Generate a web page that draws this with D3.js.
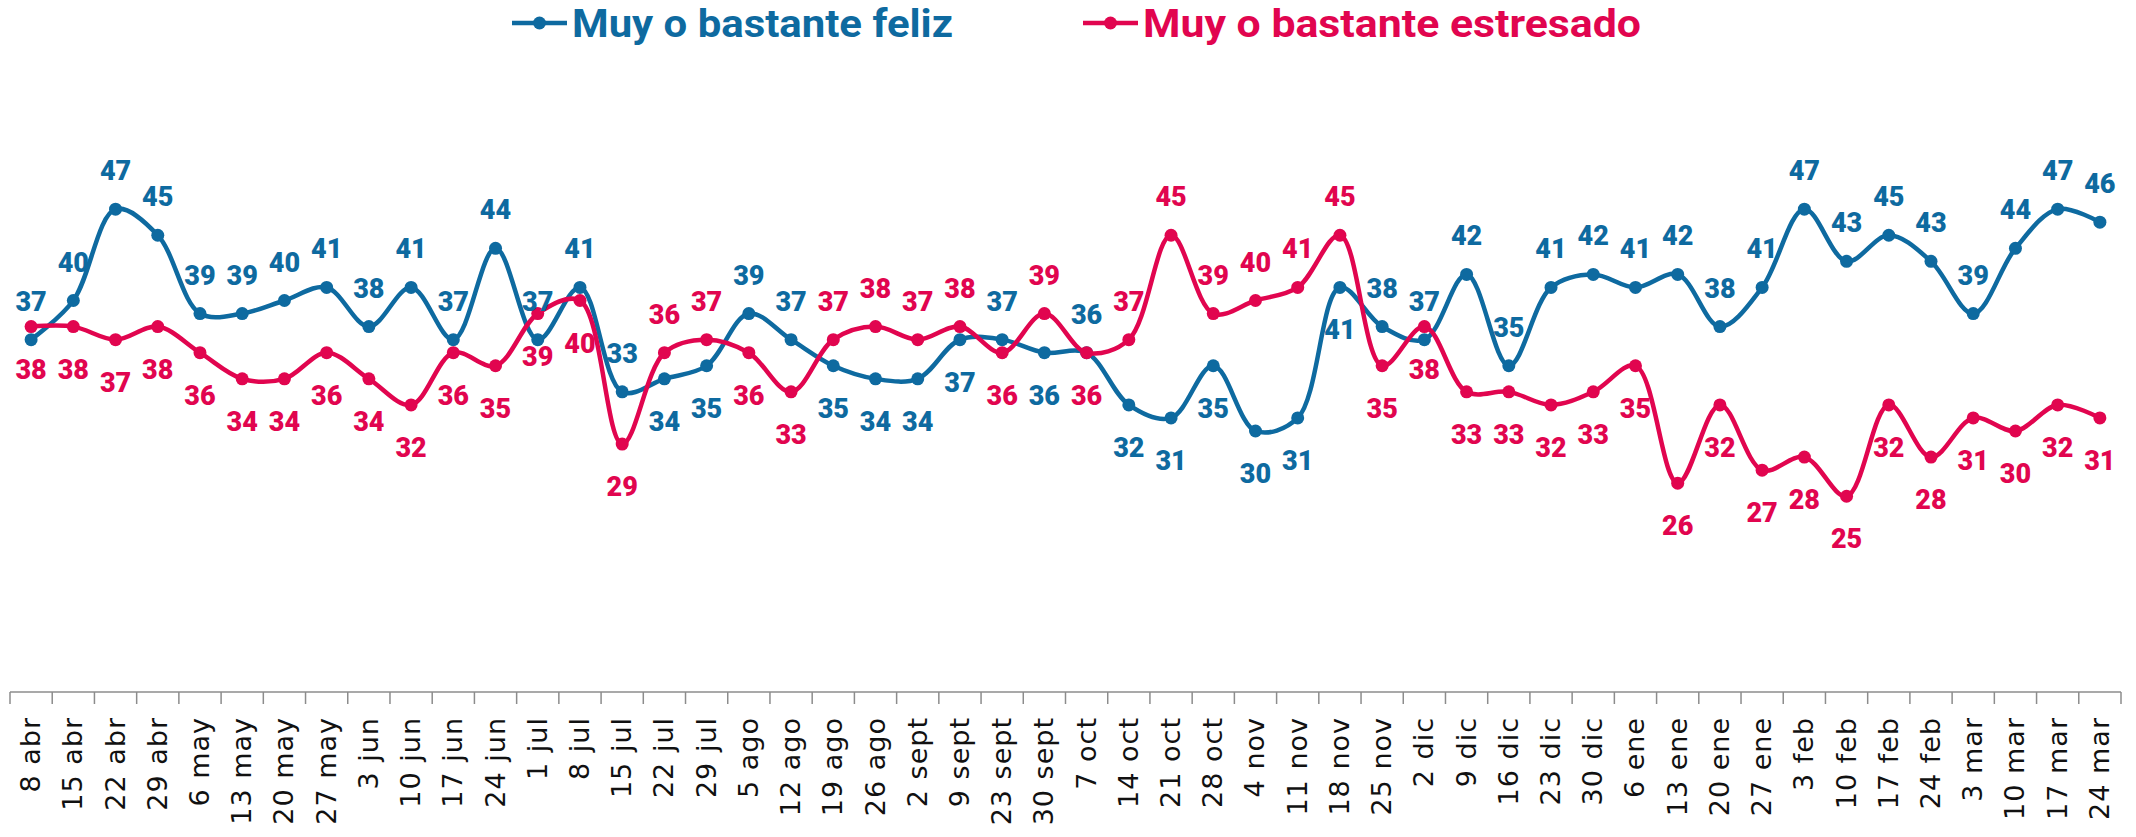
<!DOCTYPE html>
<html>
<head>
<meta charset="utf-8">
<script src="https://cdn.jsdelivr.net/npm/d3@7"></script>
<style>
  body { margin: 0; background: #fff; }
  svg { display: block; }
</style>
</head>
<body>
<div id="chart"></div>
<script>
const width = 2136
const height = 837

const categories = ["8 abr", "15 abr", "22 abr", "29 abr", "6 may", "13 may", "20 may", "27 may",
    "3 jun", "10 jun", "17 jun", "24 jun", "1 jul", "8 jul", "15 jul", "22 jul", "29 jul",
    "5 ago", "12 ago", "19 ago", "26 ago", "2 sept", "9 sept", "23 sept", "30 sept",
    "7 oct", "14 oct", "21 oct", "28 oct", "4 nov", "11 nov", "18 nov", "25 nov",
    "2 dic", "9 dic", "16 dic", "23 dic", "30 dic", "6 ene", "13 ene", "20 ene", "27 ene",
    "3 feb", "10 feb", "17 feb", "24 feb", "3 mar", "10 mar", "17 mar", "24 mar"]

const feliz = [37, 40, 47, 45, 39, 39, 40, 41, 38, 41, 37, 44, 37, 41, 33, 34, 35,
    39, 37, 35, 34, 34, 37, 37, 36, 36, 32, 31, 35, 30, 31, 41, 38,
    37, 42, 35, 41, 42, 41, 42, 38, 41, 47, 43, 45, 43, 39, 44, 47, 46]

const estresado = [38, 38, 37, 38, 36, 34, 34, 36, 34, 32, 36, 35, 39, 40, 29, 36, 37,
    36, 33, 37, 38, 37, 38, 36, 39, 36, 37, 45, 39, 40, 41, 45, 35,
    38, 33, 33, 32, 33, 35, 26, 32, 27, 28, 25, 32, 28, 31, 30, 32, 31]

const seriesNames = ["Muy o bastante feliz", "Muy o bastante estresado"]

// where the labels flip side (blue below / red above)
const felizBelow = [15, 16, 19, 20, 21, 22, 24, 26, 27, 28, 29, 30, 31]
const estresadoAbove = [15, 16, 19, 20, 21, 22, 24, 26, 27, 28, 29, 30, 31]

const colors = ["#0e6aa0", "#e1054f"]

const svg = d3.select("div#chart").append("svg").attr("width", width).attr("height", height)

const x = d3.scaleBand().domain(categories).range([10, 2121]).padding(0)
const y = d3.scaleLinear().domain([10, 50]).range([692, 170])

// x axis
const xAxisGroup = svg.append("g").attr("class", "xAxisGroup")
    .attr("transform", `translate(0, ${y(10)})`)

xAxisGroup.append("line")
    .attr("x1", x.range()[0]).attr("x2", x.range()[1])
    .attr("stroke", "#8c8c8c").attr("stroke-width", 1.5)

const edges = categories.map(c => x(c)).concat([x.range()[1]])
xAxisGroup.selectAll("line.tick").data(edges).join("line")
    .attr("class", "tick")
    .attr("x1", d => d).attr("x2", d => d)
    .attr("y1", 0).attr("y2", 12)
    .attr("stroke", "#8c8c8c").attr("stroke-width", 1.5)

xAxisGroup.selectAll("text").data(categories).join("text")
    .attr("transform", d => `translate(${x(d) + x.bandwidth() / 2 + 9}, 25) rotate(-90)`)
    .attr("text-anchor", "end")
    .attr("font-family", "DejaVu Sans")
    .attr("font-size", 27)
    .attr("letter-spacing", 1)
    .attr("fill", "#111")
    .text(d => d)

// lines
const line = d3.line()
    .x((d, i) => x(categories[i]) + x.bandwidth() / 2)
    .y(d => y(d))
    .curve(d3.curveCatmullRom.alpha(0.5))

const series = [feliz, estresado]

series.forEach((data, s) => {
    const g = svg.append("g").attr("class", "serie" + s)
    g.append("path")
        .datum(data)
        .attr("d", line)
        .attr("fill", "none")
        .attr("stroke", colors[s])
        .attr("stroke-width", 4.5)

    g.selectAll("circle").data(data).join("circle")
        .attr("cx", (d, i) => x(categories[i]) + x.bandwidth() / 2)
        .attr("cy", d => y(d))
        .attr("r", 6.5)
        .attr("fill", colors[s])
})

series.forEach((data, s) => {
    svg.append("g").selectAll("text").data(data).join("text")
        .attr("x", (d, i) => x(categories[i]) + x.bandwidth() / 2)
        .attr("y", (d, i) => {
            let above = s === 0 ? !felizBelow.includes(i) : estresadoAbove.includes(i)
            return above ? y(d) - 29 : y(d) + 52
        })
        .attr("text-anchor", "middle")
        .attr("font-family", "Roboto")
        .attr("font-weight", 900)
        .attr("font-size", 27)
        .attr("fill", colors[s])
        .text(d => d)
})

// legend
const legendX = [512, 1083]
const legendW = [381, 498]
seriesNames.forEach((name, s) => {
    const g = svg.append("g").attr("transform", `translate(${legendX[s]}, 23)`)
    g.append("line").attr("x1", 0).attr("x2", 55)
        .attr("stroke", colors[s]).attr("stroke-width", 4.5)
    g.append("circle").attr("cx", 27.5).attr("r", 6.5).attr("fill", colors[s])
    g.append("text")
        .attr("x", 60).attr("y", 14)
        .attr("font-family", "Roboto")
        .attr("font-weight", 700)
        .attr("font-size", 38)
        .attr("textLength", legendW[s])
        .attr("lengthAdjust", "spacingAndGlyphs")
        .attr("fill", colors[s])
        .text(name)
})
</script>
</body>
</html>
